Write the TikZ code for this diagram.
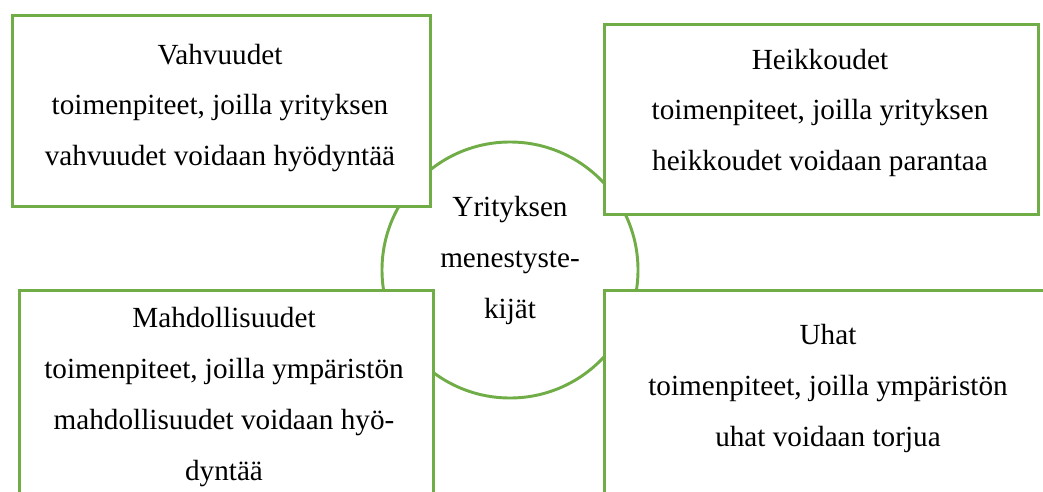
\documentclass[tikz,border=0pt]{standalone}
\usepackage{fontspec}
\setmainfont{Liberation Serif}
\definecolor{swotgreen}{RGB}{112,173,71}
\begin{document}
\begin{tikzpicture}[x=0.75pt,y=-0.75pt,
  box/.style={draw=swotgreen, line width=2.2pt, fill=white, inner sep=0pt, anchor=north west},
  txt/.style={align=center, inner sep=0pt, anchor=base, font=\fontsize{21.9}{38.25}\selectfont}]
\useasboundingbox (0,0) rectangle (1043,492);
\clip (0,0) rectangle (1043,492);
\fill[white] (0,0) rectangle (1043,492);
% centre circle
\node[draw=swotgreen, line width=2.2pt, fill=white, circle, minimum size=256*0.75pt, inner sep=0pt] (core) at (510,270) {};
% boxes
\node[box, minimum width=418*0.75pt, minimum height=191*0.75pt] (s) at (11,14) {};
\node[box, minimum width=434*0.75pt, minimum height=190*0.75pt] (w) at (603,23) {};
\node[box, minimum width=414*0.75pt, minimum height=240*0.75pt] (o) at (18,289) {};
\node[box, minimum width=470*0.75pt, minimum height=240*0.75pt] (t) at (603,289) {};
% texts (anchor = baseline of last line)
\node[txt] (st) at (220,166) {Vahvuudet\\toimenpiteet, joilla yrityksen\\vahvuudet voidaan hyödyntää};
\node[txt] (wt) at (820,171) {Heikkoudet\\toimenpiteet, joilla yrityksen\\heikkoudet voidaan parantaa};
\node[txt] (ot) at (224,480) {Mahdollisuudet\\toimenpiteet, joilla ympäristön\\mahdollisuudet voidaan hyö-\\dyntää};
\node[txt] (tt) at (828,446) {Uhat\\toimenpiteet, joilla ympäristön\\uhat voidaan torjua};
\node[txt] (ct) at (510,318) {Yrityksen\\menestyste-\\kijät};
\end{tikzpicture}
\end{document}
